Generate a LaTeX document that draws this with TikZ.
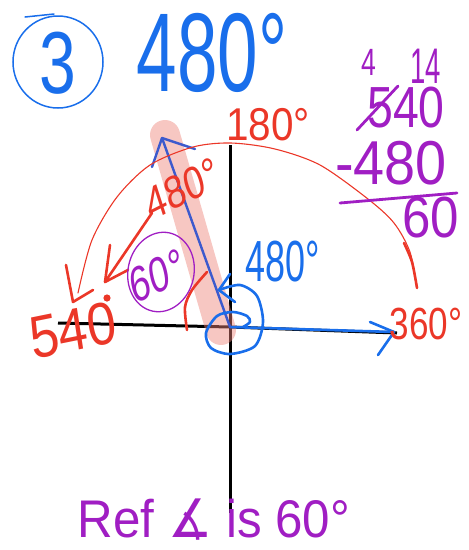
\documentclass[tikz,border=0pt]{standalone}
\usepackage{fontspec}
\setmainfont{Liberation Sans}
\newfontfamily\symfont{DejaVu Sans}
\definecolor{hwblue}{RGB}{25,110,235}
\definecolor{hwred}{RGB}{235,55,40}
\definecolor{hwpurple}{RGB}{160,30,195}
\definecolor{hwdblue}{RGB}{60,90,205}
\definecolor{hwpink}{RGB}{238,130,120}
\newcommand{\fs}[1]{\fontsize{#1}{#1}\selectfont}
\begin{document}
\begin{tikzpicture}[x=1pt,y=-1pt,
  hw/.style={inner sep=0pt, outer sep=0pt, transform shape},
  axis/.style={line width=3pt, black},
  bline/.style={line width=2.6pt, hwblue, line cap=round, line join=round},
  dbline/.style={line width=2.4pt, hwdblue, line cap=round, line join=round},
  rline/.style={line width=2.6pt, hwred, line cap=round, line join=round},
  rthin/.style={line width=1.1pt, hwred, line cap=round},
  pline/.style={line width=2.8pt, hwpurple, line cap=round},
  pinkband/.style={line width=30pt, hwpink, opacity=0.45, line cap=round}]
\useasboundingbox (0,0) rectangle (469,550);

% key points
\coordinate (O) at (230,327);
\coordinate (Ytop) at (230,145);
\coordinate (Ybot) at (230,513);
\coordinate (Xleft) at (58,323);
\coordinate (Xright) at (397,333);
\coordinate (Xblue) at (394,332);
\coordinate (Ray) at (162,138);
\coordinate (BandTop) at (165,135);
\coordinate (BandBot) at (221,330);

% axes
\draw[axis] (Xleft) -- (O) -- (Xright);
\draw[axis] (Ytop) -- (Ybot);

% highlighted terminal side
\draw[pinkband] (BandTop) -- (BandBot);

% blue arrow along positive x axis
\draw[bline] (O) -- (Xblue);
\coordinate (XbA) at (370,322);
\coordinate (XbB) at (378,355);
\draw[bline] (XbA) -- (Xblue) -- (XbB);

% terminal side ray
\draw[dbline] (O) -- (Ray);
\coordinate (RayA) at (152,167);
\coordinate (RayB) at (195,149);
\draw[dbline] (RayA) -- (Ray) -- (RayB);

% big red arc
\draw[rthin] plot[smooth] coordinates {(417,288) (410,252) (394,223) (368,199) (320,165) (275,149) (231,143) (193,147) (150,165) (117,197) (92,240) (78,293)};
\draw[rline] plot[smooth] coordinates {(404,243) (412,262) (417,288)};
\coordinate (ArcTip) at (73,302);
\coordinate (ArcA) at (66,265);
\coordinate (ArcB) at (93,290);
\draw[rline] (ArcA) -- (ArcTip) -- (ArcB);

% red arrow under the 480 label
\coordinate (RaS) at (152,213);
\coordinate (RaT) at (105,282);
\coordinate (RaA) at (110,245);
\coordinate (RaB) at (128,270);
\draw[rline] (RaS) -- (RaT);
\draw[rline] (RaA) -- (RaT) -- (RaB);
\fill[hwred] (107,298) circle (3.6);

% red reference-angle arc
\draw[rline] plot[smooth] coordinates {(187,330) (185,307) (192,290) (207,272)};

% blue rotation spiral
\draw[bline] plot[smooth] coordinates {(243,327) (250,322) (247,316) (233,312) (217,316) (206,333) (211,348) (230,354) (255,346) (263,322) (257,296) (240,285) (219,290)};
\coordinate (SpTip) at (219,290);
\coordinate (SpA) at (230,274);
\coordinate (SpB) at (235,302);
\draw[bline] (SpA) -- (SpTip) -- (SpB);

% purple ellipse round 60
\draw[hwpurple, line width=1.3pt, rotate around={-12:(161,272)}] (161,272) ellipse [x radius=33, y radius=40];

% circled 3
\draw[hwblue, line width=1.5pt] (58,62) ellipse [x radius=45, y radius=46];
\coordinate (TickA) at (25,17);
\coordinate (TickB) at (54,14);
\draw[hwblue, line width=1.5pt, line cap=round] (TickA) -- (TickB);

% purple working
\coordinate (StrA) at (357,130);
\coordinate (StrB) at (398,86);
\draw[pline] (StrA) -- (StrB);
\coordinate (RuleA) at (340,203);
\coordinate (RuleB) at (457,193);
\draw[pline] (RuleA) -- (RuleB);

% texts
\node[hw, text=hwblue, font=\fs{88}, xscale=0.75] (three) at (58,63) {3};
\node[hw, text=hwblue, font=\fs{112}, xscale=0.65] (title) at (212,53) {480°};
\node[hw, text=hwred, font=\fs{46}, xscale=0.88] (l180) at (268,125) {180°};
\node[hw, text=hwred, font=\fs{45}, xscale=0.78] (l360) at (426,324) {360°};
\node[hw, text=hwred, font=\fs{60}, xscale=0.87, rotate=10] (l540) at (73,330) {540};
\node[hw, text=hwred, font=\fs{46}, xscale=0.8, rotate=22] (l480r) at (182,189) {480°};
\node[hw, text=hwblue, font=\fs{58}, xscale=0.62] (l480b) at (283,262) {480°};
\node[hw, text=hwpurple, font=\fs{50}, xscale=0.72, rotate=18] (l60) at (157,276) {60°};
\node[hw, text=hwpurple, font=\fs{38}, xscale=0.7] (m4) at (369,62) {4};
\node[hw, text=hwpurple, font=\fs{50}, xscale=0.55] (m14) at (426,66) {14};
\node[hw, text=hwpurple, font=\fs{58}, xscale=0.8] (m540) at (406,108) {540};
\node[hw, text=hwpurple, font=\fs{62}, xscale=0.9] (m480) at (391,163) {-480};
\node[hw, text=hwpurple, font=\fs{58}, xscale=0.88] (m60) at (431,218) {60};
\node[hw, text=hwpurple, font=\fs{53}, xscale=0.93] (ref) at (214,520) {Ref {\symfont ∡} is 60°};
\end{tikzpicture}
\end{document}
